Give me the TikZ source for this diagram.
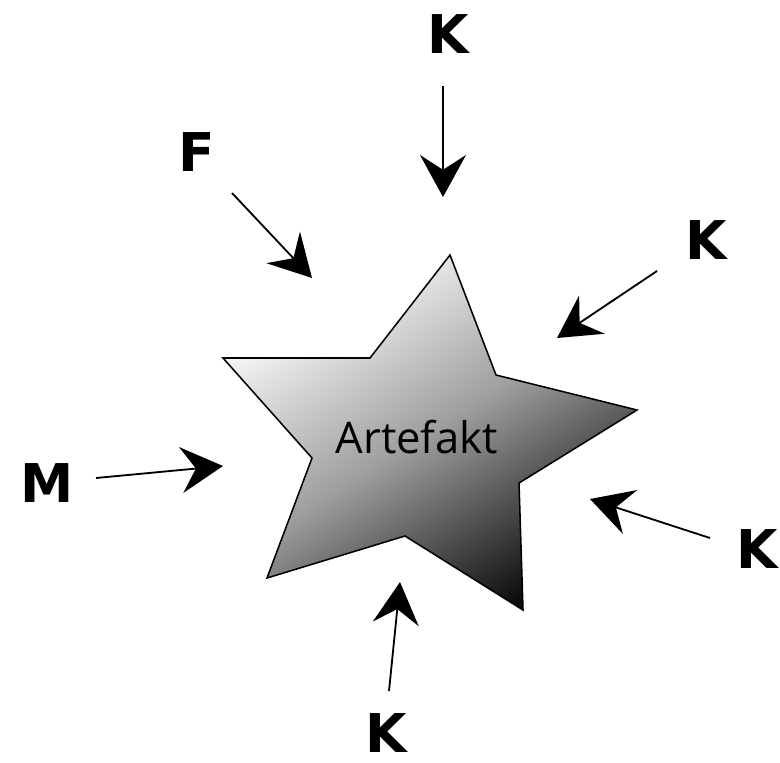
\documentclass[tikz,border=0pt]{standalone}
\usepackage{fontspec}
\setsansfont{Open Sans}
\newfontfamily\labelfont{DejaVu Sans}
\usepackage{tikz}
\usetikzlibrary{arrows.meta}

\begin{document}
\begin{tikzpicture}[
    x=0.025cm, y=-0.025cm,
    einfluss/.style={line width=1.3pt,
      -{Stealth[length=1.05cm, width=1.15cm, inset=0.37cm]}},
    buchstabe/.style={font=\labelfont\bfseries\fontsize{38}{38}\selectfont,
      inner sep=0pt},
  ]
  \useasboundingbox (0,0) rectangle (780,762);

  % Stern
  \draw[line width=1.1pt, top color=white, bottom color=black!95,
        middle color=black!38, shading angle=32]
    (450,255) -- (496,375) -- (637,410) -- (519,483) -- (523,610)
    -- (405,536) -- (267,578) -- (312,458) -- (223,358) -- (370,358) -- cycle;
  \node[font=\sffamily\fontsize{31}{31}\selectfont] (art) at (417,437) {Artefakt};

  % Einfluesse
  \node[buchstabe] (kOben) at (448,34) {K};
  \node[buchstabe] (f) at (197,152) {F};
  \node[buchstabe] (m) at (47,483) {M};
  \node[buchstabe] (kRechtsOben) at (706,240) {K};
  \node[buchstabe] (kRechts) at (757,549) {K};
  \node[buchstabe] (kUnten) at (386,733) {K};

  \coordinate (kOben-a) at (443,86);        \coordinate (kOben-b) at (443,197);
  \coordinate (f-a) at (232,193);           \coordinate (f-b) at (312,278);
  \coordinate (m-a) at (96,478);            \coordinate (m-b) at (223,466);
  \coordinate (kRechtsOben-a) at (657,271); \coordinate (kRechtsOben-b) at (557,338);
  \coordinate (kRechts-a) at (710,538);     \coordinate (kRechts-b) at (590,499);
  \coordinate (kUnten-a) at (389,691);      \coordinate (kUnten-b) at (400,582);

  \draw[einfluss] (kOben-a) -- (kOben-b);
  \draw[einfluss] (f-a) -- (f-b);
  \draw[einfluss] (m-a) -- (m-b);
  \draw[einfluss] (kRechtsOben-a) -- (kRechtsOben-b);
  \draw[einfluss] (kRechts-a) -- (kRechts-b);
  \draw[einfluss] (kUnten-a) -- (kUnten-b);
\end{tikzpicture}
\end{document}
